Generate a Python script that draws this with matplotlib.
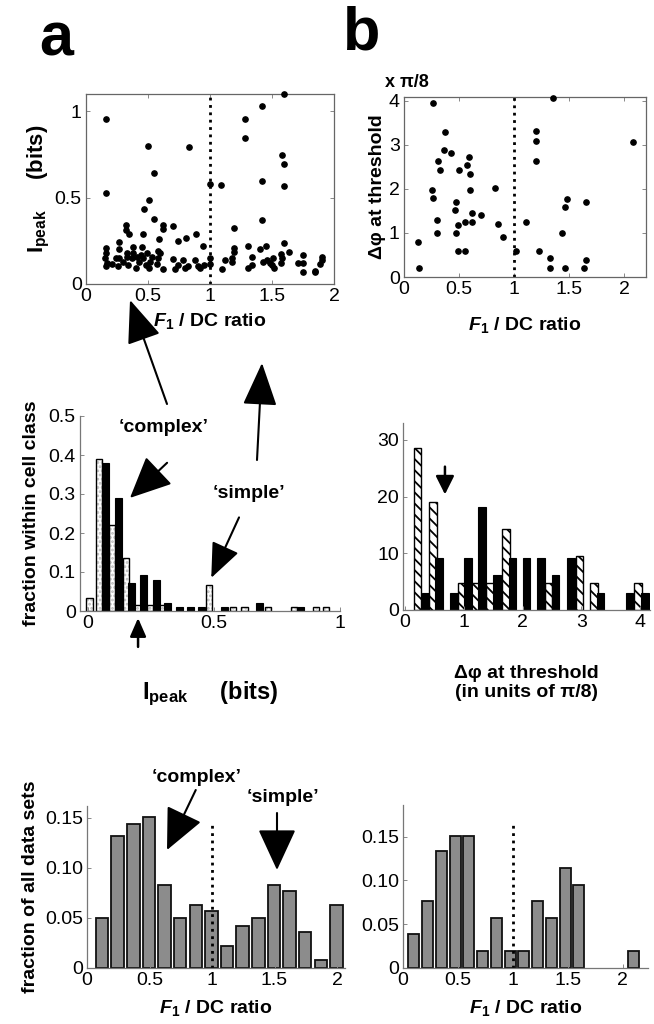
import numpy as np
import matplotlib
matplotlib.use('Agg')
import matplotlib.pyplot as plt

plt.rcParams['font.family'] = ['Liberation Sans', 'DejaVu Sans']
plt.rcParams['mathtext.fontset'] = 'custom'
plt.rcParams['mathtext.rm'] = 'Liberation Sans'
plt.rcParams['mathtext.it'] = 'Liberation Sans:italic'
plt.rcParams['mathtext.bf'] = 'Liberation Sans:bold'
plt.rcParams['mathtext.bfit'] = 'Liberation Sans:bold:italic'
plt.rcParams['hatch.linewidth'] = 1.3

# ---- panel a top: I_peak vs F1/DC ratio ----
a_x = [0.16, 0.16, 0.50, 0.51, 0.47, 0.55, 0.83, 0.55, 0.62, 0.62, 0.70, 0.32, 0.32, 0.35, 0.46,
       0.27, 0.59, 0.74, 0.81, 0.89, 0.94, 1.00, 1.09, 1.19, 1.28, 1.28, 1.42, 1.60, 1.58, 1.60,
       1.42, 1.60, 1.42, 1.60, 1.31, 1.45, 1.40, 1.19, 1.64,
       0.16, 0.16, 0.15, 0.17, 0.16, 0.21, 0.26, 0.24, 0.27, 0.27, 0.30, 0.33, 0.33, 0.34, 0.37,
       0.38, 0.38, 0.40, 0.41, 0.43, 0.44, 0.45, 0.46, 0.48, 0.49, 0.51, 0.52, 0.53, 0.58, 0.58,
       0.60, 0.57, 0.62, 0.70, 0.72, 0.74, 0.78, 0.80, 0.82, 0.88, 0.90, 0.92, 0.95, 1.00, 1.00,
       1.10, 1.12, 1.18, 1.19, 1.18, 1.31, 1.34, 1.34, 1.43, 1.46, 1.48, 1.51, 1.50, 1.52, 1.58,
       1.57, 1.57, 1.71, 1.75, 1.75, 1.75, 1.85, 1.90, 1.89, 1.85, 1.90]
a_y = [0.956, 0.527, 0.798, 0.488, 0.433, 0.642, 0.792, 0.379, 0.344, 0.321, 0.333, 0.344, 0.310,
       0.290, 0.290, 0.244, 0.263, 0.248, 0.265, 0.290, 0.221, 0.577, 0.571, 0.323, 0.956, 0.846,
       1.030, 1.100, 0.748, 0.694, 0.594, 0.565, 0.373, 0.238, 0.221, 0.221, 0.202, 0.210, 0.183,
       0.206, 0.177, 0.148, 0.119, 0.104, 0.115, 0.104, 0.152, 0.202, 0.148, 0.129, 0.177, 0.158,
       0.110, 0.148, 0.177, 0.215, 0.090, 0.158, 0.129, 0.167, 0.215, 0.148, 0.110, 0.177, 0.090,
       0.129, 0.158, 0.192, 0.148, 0.177, 0.115, 0.087, 0.142, 0.087, 0.110, 0.138, 0.090, 0.104,
       0.138, 0.104, 0.090, 0.110, 0.148, 0.113, 0.087, 0.138, 0.152, 0.187, 0.129, 0.094, 0.110,
       0.158, 0.129, 0.138, 0.119, 0.152, 0.110, 0.094, 0.152, 0.119, 0.171, 0.119, 0.167, 0.119,
       0.071, 0.071, 0.158, 0.113, 0.073, 0.137]

# ---- panel b top: delta phi at threshold vs F1/DC ratio ----
b_x = [0.13, 0.14, 0.26, 0.25, 0.26, 0.30, 0.30, 0.31, 0.33, 0.36, 0.37, 0.43, 0.46, 0.47, 0.47,
       0.49, 0.49, 0.50, 0.55, 0.55, 0.57, 0.59, 0.60, 0.60, 0.62, 0.62, 0.70, 0.83, 0.85, 0.90,
       1.02, 1.11, 1.20, 1.20, 1.20, 1.23, 1.33, 1.33, 1.35, 1.44, 1.46, 1.46, 1.48, 1.64, 1.65,
       1.65, 2.08]
b_y = [0.79, 0.20, 3.95, 1.98, 1.80, 1.30, 1.00, 2.63, 2.42, 2.89, 3.29, 2.82, 1.53, 1.69, 1.00,
       0.58, 1.19, 2.42, 0.58, 1.24, 2.53, 2.73, 2.33, 1.98, 1.46, 1.24, 1.41, 2.01, 1.20, 0.91,
       0.58, 1.24, 3.30, 3.08, 2.63, 0.58, 0.43, 0.20, 4.06, 1.00, 1.58, 0.20, 1.76, 0.20, 0.38,
       1.70, 3.06]

# ---- middle left: I_peak histogram, open = simple, filled = complex ----
ml_open_x = [0.008, 0.046, 0.096, 0.151, 0.198, 0.248, 0.294, 0.480, 0.577, 0.622, 0.716, 0.818, 0.905, 0.944]
ml_open_h = [0.033, 0.39, 0.22, 0.135, 0.015, 0.015, 0.015, 0.067, 0.01, 0.01, 0.01, 0.01, 0.01, 0.01]
ml_fill_x = [0.071, 0.122, 0.175, 0.223, 0.272, 0.318, 0.363, 0.408, 0.450, 0.542, 0.682, 0.845]
ml_fill_h = [0.38, 0.29, 0.072, 0.092, 0.08, 0.02, 0.01, 0.01, 0.01, 0.01, 0.02, 0.01]

# ---- middle right: delta phi histogram, hatched = simple, filled = complex ----
mr_hatch_x = [0.21, 0.48, 0.97, 1.19, 1.45, 1.72, 2.44, 2.97, 3.22, 3.97]
mr_hatch_h = [28.6, 19.0, 4.8, 4.8, 4.8, 14.3, 4.8, 9.5, 4.8, 4.8]
mr_fill_x = [0.35, 0.58, 0.83, 1.07, 1.31, 1.57, 1.83, 2.07, 2.32, 2.56, 2.82, 3.33, 3.82, 4.08]
mr_fill_h = [3.0, 9.1, 3.0, 9.1, 18.2, 6.1, 9.1, 9.1, 9.1, 6.1, 9.1, 3.0, 3.0, 3.0]

# ---- bottom: F1/DC ratio distributions ----
bl_x = [0.12, 0.245, 0.37, 0.495, 0.62, 0.745, 0.87, 0.995, 1.12, 1.245, 1.37, 1.495, 1.62, 1.745, 1.87, 1.995]
bl_h = [0.050, 0.132, 0.144, 0.151, 0.083, 0.050, 0.063, 0.057, 0.0225, 0.042, 0.050, 0.083, 0.077,
        0.036, 0.0083, 0.063]
br_x = [0.10, 0.225, 0.35, 0.475, 0.60, 0.725, 0.85, 0.975, 1.10, 1.225, 1.35, 1.475, 1.60, 2.10]
br_h = [0.039, 0.077, 0.133, 0.151, 0.151, 0.0197, 0.0576, 0.0197, 0.0197, 0.077, 0.0576, 0.114,
        0.095, 0.0197]

W, H = 654, 1024
fig = plt.figure(figsize=(W / 100, H / 100), dpi=100)


def box(l, t, r, b):
    return [l / W, 1 - b / H, (r - l) / W, (b - t) / H]


f1_label = r'$\mathbfit{F}_{\mathbf{1}}$ / DC ratio'
tick_fs = 14
lab_fs = 14


def style_box(ax):
    for s in ax.spines.values():
        s.set_color('#666666')
        s.set_linewidth(0.9)
    ax.tick_params(direction='in', length=3, width=0.7, color='#888888',
                   top=True, right=True, labelsize=tick_fs, pad=3)


def style_open(ax):
    ax.spines['top'].set_visible(False)
    ax.spines['right'].set_visible(False)
    for s in ax.spines.values():
        s.set_color('#777777')
        s.set_linewidth(0.9)
    ax.tick_params(direction='in', length=3, width=0.7, color='#888888',
                   labelsize=tick_fs, pad=3)


# panel a scatter
ax = fig.add_axes(box(86, 94, 334, 284))
ax.plot(a_x, a_y, 'o', ms=3.8, color='k', clip_on=False, zorder=3)
ax.axvline(1, ls=':', color='k', lw=2)
ax.set_xlim(0, 2)
ax.set_ylim(0, 1.1)
ax.set_xticks([0, 0.5, 1, 1.5, 2])
ax.set_xticklabels(['0', '0.5', '1', '1.5', '2'])
ax.set_yticks([0, 0.5, 1])
ax.set_yticklabels(['0', '0.5', '1'])
style_box(ax)
ax.set_xlabel(f1_label, fontsize=lab_fs, fontweight='bold', labelpad=4)
ax.set_ylabel(r'$\mathbf{I_{peak}}$     (bits)', fontsize=16, fontweight='bold', labelpad=2)

# panel b scatter
ax = fig.add_axes(box(404, 97, 646, 277))
ax.plot(b_x, b_y, 'o', ms=3.8, color='k', clip_on=False, zorder=3)
ax.axvline(1, ls=':', color='k', lw=2)
ax.set_xlim(0, 2.2)
ax.set_ylim(0, 4.08)
ax.set_xticks([0, 0.5, 1, 1.5, 2])
ax.set_xticklabels(['0', '0.5', '1', '1.5', '2'])
ax.set_yticks([0, 1, 2, 3, 4])
style_box(ax)
ax.set_xlabel(f1_label, fontsize=lab_fs, fontweight='bold', labelpad=12)
ax.set_ylabel('\u0394\u03c6 at threshold', fontsize=lab_fs, fontweight='bold', labelpad=2)
ax.text(0.01, 1.083, 'x \u03c0/8', transform=ax.transAxes, fontsize=13, fontweight='bold',
        ha='center', va='center')

# middle left histogram
ax = fig.add_axes(box(80, 416, 340, 611))
ax.bar(ml_open_x, ml_open_h, width=0.025, color='white', edgecolor='#bbbbbb', hatch='....', lw=0)
ax.bar(ml_open_x, ml_open_h, width=0.025, fill=False, edgecolor='k', lw=1.0)
ax.bar(ml_fill_x, ml_fill_h, width=0.027, color='k', edgecolor='k', lw=0.8)
ax.set_xlim(-0.03, 1.0)
ax.set_ylim(0, 0.5)
ax.set_xticks([0, 0.5, 1])
ax.set_xticklabels(['0', '0.5', '1'])
ax.set_yticks([0, 0.1, 0.2, 0.3, 0.4, 0.5])
ax.set_yticklabels(['0', '0.1', '0.2', '0.3', '0.4', '0.5'])
style_open(ax)
ax.set_xlabel(r'$\mathbf{I_{peak}}$     (bits)', fontsize=17, fontweight='bold', labelpad=34)
ax.set_ylabel('fraction within cell class', fontsize=lab_fs, fontweight='bold', labelpad=6)
ax.annotate("\u2018complex\u2019", xy=(0.30, 0.47), xycoords='data', fontsize=lab_fs,
            fontweight='bold', ha='center', va='center', annotation_clip=False)
ax.annotate('', xy=(0.168, 0.29), xytext=(0.315, 0.38),
            arrowprops=dict(arrowstyle='-|>,head_length=1.3,head_width=0.6', mutation_scale=20,
                            lw=1.5, color='k', shrinkA=0, shrinkB=0))
ax.annotate("\u2018simple\u2019", xy=(0.64, 0.30), xycoords='data', fontsize=lab_fs,
            fontweight='bold', ha='center', va='center', annotation_clip=False)
ax.annotate('', xy=(0.49, 0.085), xytext=(0.6, 0.24),
            arrowprops=dict(arrowstyle='-|>,head_length=1.2,head_width=0.5', mutation_scale=18,
                            lw=1.5, color='k', shrinkA=0, shrinkB=0))
ax.annotate('', xy=(0.2, -0.018), xytext=(0.2, -0.092), annotation_clip=False,
            arrowprops=dict(arrowstyle='-|>,head_length=0.8,head_width=0.35', mutation_scale=14,
                            lw=1.8, color='k', shrinkA=0, shrinkB=0))

# middle right histogram
ax = fig.add_axes(box(403, 423, 650, 610))
ax.bar(mr_hatch_x, mr_hatch_h, width=0.13, color='white', edgecolor='k', hatch='\\\\\\', lw=1.0)
ax.bar(mr_fill_x, mr_fill_h, width=0.13, color='k', edgecolor='k', lw=0.8)
ax.set_xlim(-0.034, 4.17)
ax.set_ylim(0, 33)
ax.set_xticks([0, 1, 2, 3, 4])
ax.set_yticks([0, 10, 20, 30])
style_open(ax)
ax.set_xlabel('\u0394\u03c6 at threshold\n(in units of \u03c0/8)', fontsize=lab_fs,
              fontweight='bold', labelpad=24, linespacing=1.2)
ax.annotate('', xy=(0.68, 20.4), xytext=(0.68, 25.3), annotation_clip=False,
            arrowprops=dict(arrowstyle='-|>,head_length=0.8,head_width=0.4', mutation_scale=14,
                            lw=1.8, color='k', shrinkA=0, shrinkB=0))

# bottom left histogram
ax = fig.add_axes(box(87, 806, 345, 968))
ax.bar(bl_x, bl_h, width=0.1, color='#8c8c8c', edgecolor='#111111', lw=1.3)
ax.plot([1, 1], [0, 0.145], ls=':', color='k', lw=2)
ax.set_xlim(0, 2.064)
ax.set_ylim(0, 0.162)
ax.set_xticks([0, 0.5, 1, 1.5, 2])
ax.set_xticklabels(['0', '0.5', '1', '1.5', '2'])
ax.set_yticks([0, 0.05, 0.10, 0.15])
ax.set_yticklabels(['0', '0.05', '0.10', '0.15'])
style_open(ax)
ax.set_xlabel(f1_label, fontsize=lab_fs, fontweight='bold', labelpad=6)
ax.set_ylabel('fraction of all data sets', fontsize=lab_fs, fontweight='bold', labelpad=4)
ax.annotate("\u2018complex\u2019", xy=(0.88, 0.19), fontsize=lab_fs, fontweight='bold',
            ha='center', va='center', annotation_clip=False)
ax.annotate('', xy=(0.64, 0.118), xytext=(0.87, 0.178), annotation_clip=False,
            arrowprops=dict(arrowstyle='-|>,head_length=1.3,head_width=0.6', mutation_scale=20,
                            lw=1.5, color='k', shrinkA=0, shrinkB=0))
ax.annotate("\u2018simple\u2019", xy=(1.57, 0.17), fontsize=lab_fs, fontweight='bold',
            ha='center', va='center', annotation_clip=False)
ax.annotate('', xy=(1.52, 0.098), xytext=(1.52, 0.155), annotation_clip=False,
            arrowprops=dict(arrowstyle='-|>,head_length=1.3,head_width=0.6', mutation_scale=20,
                            lw=1.5, color='k', shrinkA=0, shrinkB=0))

# bottom right histogram
ax = fig.add_axes(box(403, 805, 648, 968))
ax.bar(br_x, br_h, width=0.1, color='#8c8c8c', edgecolor='#111111', lw=1.3)
ax.plot([1, 1], [0, 0.163], ls=':', color='k', lw=2)
ax.set_xlim(0, 2.23)
ax.set_ylim(0, 0.186)
ax.set_xticks([0, 0.5, 1, 1.5, 2])
ax.set_xticklabels(['0', '0.5', '1', '1.5', '2'])
ax.set_yticks([0, 0.05, 0.10, 0.15])
ax.set_yticklabels(['0', '0.05', '0.10', '0.15'])
style_open(ax)
ax.set_xlabel(f1_label, fontsize=lab_fs, fontweight='bold', labelpad=6)

# overlay in pixel coordinates for panel letters and the long linking arrows
ov = fig.add_axes([0, 0, 1, 1], zorder=10)
ov.set_xlim(0, W)
ov.set_ylim(H, 0)
ov.axis('off')
ov.text(56, 40, 'a', fontsize=44, fontweight='bold', ha='center', va='center')
ov.text(362, 34, 'b', fontsize=44, fontweight='bold', ha='center', va='center')
long_arrow = dict(arrowstyle='-|>,head_length=1.5,head_width=0.6', mutation_scale=18,
                  lw=1.5, color='k', shrinkA=0, shrinkB=0)
ov.annotate('', xy=(130, 300), xytext=(167, 404), arrowprops=long_arrow)
ov.annotate('', xy=(262, 363), xytext=(257, 460), arrowprops=long_arrow)

fig.savefig('out.png', dpi=100)
